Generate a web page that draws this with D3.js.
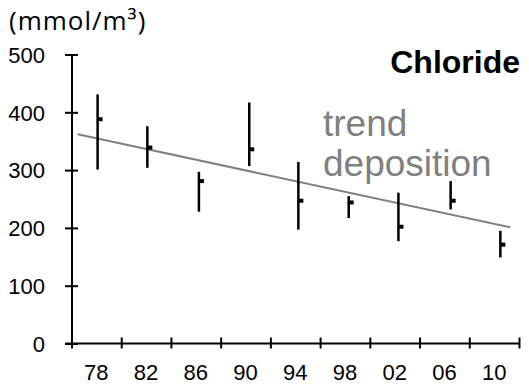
<!DOCTYPE html>
<html>
<head>
<meta charset="utf-8">
<script src="https://cdn.jsdelivr.net/npm/d3@7"></script>
<style>
  body { margin: 0; background: #fff; }
  text { font-family: "Liberation Sans", Arial, sans-serif; }
</style>
</head>
<body>
<div id="viz"></div>
<script>
// chloride deposition, mean with range per period
var years = [1978.1, 1982.1, 1986.25, 1990.3, 1994.25, 1998.3, 2002.3, 2006.5, 2010.5];
var means = [388, 339, 281, 336, 247, 244, 202, 247, 171];
var lows = [301, 304, 228, 307, 197, 217, 177, 232, 149];
var highs = [431, 376, 297, 417, 314, 255, 261, 281, 195];

var trendYears = [1976.5, 2011.3];
var trendValues = [362, 201];

var tickYears = [1976, 1980, 1984, 1988, 1992, 1996, 2000, 2004, 2008, 2012];
var labelYears = [1978, 1982, 1986, 1990, 1994, 1998, 2002, 2006, 2010];
var yTicks = [0, 100, 200, 300, 400, 500];

var width = 529, height = 386;

var xScale = d3.scaleLinear().domain([1976, 2012]).range([71.5, 519]);
var yScale = d3.scaleLinear().domain([0, 500]).range([343.5, 54.5]);

var svg = d3
  .select("#viz")
  .append("svg")
  .attr("width", width)
  .attr("height", height);

// y axis
var yAxis = d3.axisLeft(yScale).tickValues(yTicks).tickSize(0).tickPadding(0);
var gy = svg.append("g").attr("transform", "translate(72,0)").call(yAxis);
gy.select(".domain").remove();
gy.selectAll(".tick text")
  .attr("x", -27)
  .attr("dy", "0.35em")
  .style("font-size", "22px")
  .attr("fill", "#000");
gy.selectAll(".tick")
  .append("line")
  .attr("x1", -7)
  .attr("x2", 6)
  .attr("stroke", "#000")
  .attr("stroke-width", 2);
gy.append("line")
  .attr("y1", yScale(0))
  .attr("y2", yScale(500))
  .attr("stroke", "#000")
  .attr("stroke-width", 2);

// x axis
var xAxis = d3.axisBottom(xScale).tickValues(tickYears).tickSize(0).tickFormat("");
var gx = svg.append("g").attr("transform", "translate(0," + yScale(0) + ")").call(xAxis);
gx.select(".domain").remove();
gx.selectAll(".tick")
  .append("line")
  .attr("y1", -6)
  .attr("y2", 5)
  .attr("stroke", "#000")
  .attr("stroke-width", 2);
gx.append("line")
  .attr("x1", xScale(1976) - 6)
  .attr("x2", xScale(2012))
  .attr("stroke", "#000")
  .attr("stroke-width", 2);

svg.append("g")
  .selectAll("text")
  .data(labelYears)
  .enter()
  .append("text")
  .attr("x", function (d) { return xScale(d); })
  .attr("y", 380)
  .attr("text-anchor", "middle")
  .style("font-size", "22px")
  .text(function (d) { return String(d).slice(2); });

// trend line
svg.append("line")
  .attr("x1", xScale(trendYears[0]))
  .attr("y1", yScale(trendValues[0]))
  .attr("x2", xScale(trendYears[1]))
  .attr("y2", yScale(trendValues[1]))
  .attr("stroke", "#808080")
  .attr("stroke-width", 2);

// range bars
svg.append("g")
  .selectAll("line")
  .data(years)
  .enter()
  .append("line")
  .attr("x1", function (d) { return xScale(d); })
  .attr("x2", function (d) { return xScale(d); })
  .attr("y1", function (d, i) { return yScale(highs[i]); })
  .attr("y2", function (d, i) { return yScale(lows[i]); })
  .attr("stroke", "#000")
  .attr("stroke-width", 2.5);

// mean markers
svg.append("g")
  .selectAll("rect")
  .data(years)
  .enter()
  .append("rect")
  .attr("x", function (d) { return xScale(d); })
  .attr("y", function (d, i) { return yScale(means[i]) - 2; })
  .attr("width", 5)
  .attr("height", 4)
  .attr("fill", "#000");

// labels
svg.append("text")
  .attr("x", 9)
  .attr("y", 30)
  .style("font-family", "'Open Sans', sans-serif")
  .style("font-size", "26px")
  .style("letter-spacing", "1px")
  .text("(mmol/m³)");

svg.append("text")
  .attr("x", 520)
  .attr("y", 73)
  .attr("text-anchor", "end")
  .style("font-size", "32px")
  .style("font-weight", "bold")
  .text("Chloride");

svg.append("text")
  .attr("x", 323)
  .attr("y", 136)
  .attr("fill", "#808080")
  .style("font-size", "37px")
  .text("trend");

svg.append("text")
  .attr("x", 323)
  .attr("y", 176)
  .attr("fill", "#808080")
  .style("font-size", "37px")
  .text("deposition");
</script>
</body>
</html>
